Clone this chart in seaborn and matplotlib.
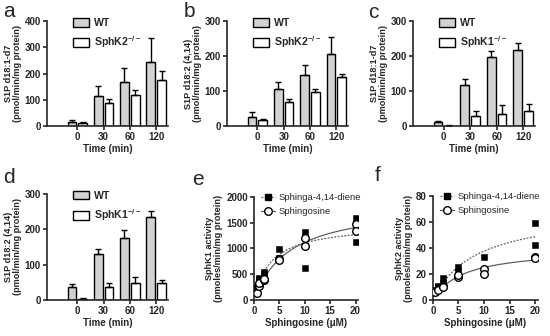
import matplotlib

matplotlib.use("Agg")
import matplotlib.pyplot as plt
import matplotlib.patches as mpatches
import numpy as np
import pandas as pd
import seaborn as sns

# ---- bar panels data (mean, SEM) ----
times = ["0", "30", "60", "120"]

a_wt = [17, 115, 168, 245]
a_wt_err = [4, 37, 52, 92]
a_ko = [12, 88, 118, 177]
a_ko_err = [3, 15, 18, 33]

b_wt = [27, 107, 147, 207]
b_wt_err = [12, 20, 28, 48]
b_ko = [17, 68, 97, 140]
b_ko_err = [3, 9, 10, 10]

c_wt = [12, 118, 197, 217]
c_wt_err = [3, 15, 18, 20]
c_ko = [1, 30, 34, 44]
c_ko_err = [1, 14, 25, 19]

d_wt = [38, 130, 175, 236]
d_wt_err = [8, 15, 24, 17]
d_ko = [3, 36, 48, 48]
d_ko_err = [2, 13, 16, 10]

# ---- kinetics panels data ----
e_diene_x = [0.5, 1, 1, 2, 2, 5, 5, 10, 10, 20, 20]
e_diene = [250, 430, 400, 540, 510, 990, 820, 1310, 620, 1600, 1130]
e_sph_x = [0.5, 1, 1, 2, 2, 5, 5, 10, 10, 20, 20]
e_sph = [130, 270, 330, 390, 400, 790, 770, 1210, 1050, 1480, 1330]

f_diene_x = [0.5, 0.5, 1, 1, 2, 2, 5, 5, 10, 20, 20]
f_diene = [6, 8, 10, 11, 17, 13, 25, 22, 33, 59, 42]
f_sph_x = [0.5, 1, 2, 2, 5, 5, 10, 10, 20, 20]
f_sph = [6, 8, 11, 10, 18, 19, 24, 20, 33, 32]

sns.set_style("ticks")
plt.rcParams["font.family"] = ["Liberation Sans", "DejaVu Sans"]
plt.rcParams["axes.linewidth"] = 1.2
plt.rcParams["xtick.major.width"] = 1.2
plt.rcParams["ytick.major.width"] = 1.2
plt.rcParams["xtick.major.size"] = 3
plt.rcParams["ytick.major.size"] = 3

TICK = 7
XLAB = 7
YLAB = 6.6
LEG_BAR = 7.6
LEG_KIN = 6.8
CURVE = "#606060"
DOTS = (0, (1.5, 1.2))


def style_axes(ax):
    sns.despine(ax=ax)
    for lab in ax.get_xticklabels() + ax.get_yticklabels():
        lab.set_fontweight("bold")
        lab.set_fontsize(TICK)
    ax.tick_params(pad=1.5)


def set_labels(ax, xlabel, ylabel):
    ax.set_xlabel(xlabel, fontsize=XLAB, fontweight="bold", labelpad=1)
    ax.set_ylabel(ylabel, fontsize=YLAB, fontweight="bold", labelpad=2,
                  linespacing=1.0)


def bar_panel(ax, wt, wt_err, ko, ko_err, ko_name, ylabel, ymax, ystep):
    df = pd.DataFrame({
        "time": times * 2,
        "value": wt + ko,
        "group": ["WT"] * 4 + [ko_name] * 4,
    })
    sns.barplot(data=df, x="time", y="value", hue="group",
                palette=["#d2d2d2", "white"], edgecolor="black", linewidth=1.0,
                errorbar=None, gap=0.2, width=0.82, ax=ax, legend=False)
    for cont, err in zip(ax.containers, [wt_err, ko_err]):
        xs = [p.get_x() + p.get_width() / 2 for p in cont]
        ys = [p.get_height() for p in cont]
        ax.errorbar(xs, ys, yerr=[np.zeros(len(err)), err], fmt="none",
                    ecolor="black", elinewidth=1.0, capsize=2.2, capthick=1.0)
    ax.set_xlim(-1.15, 3.45)
    ax.set_ylim(0, ymax)
    ax.set_yticks(np.arange(0, ymax + 1, ystep))
    set_labels(ax, "Time (min)", ylabel)
    handles = [
        mpatches.Patch(facecolor="#d2d2d2", edgecolor="black", linewidth=1.0),
        mpatches.Patch(facecolor="white", edgecolor="black", linewidth=1.0),
    ]
    ax.legend(handles, ["WT", ko_name], loc="upper left",
              bbox_to_anchor=(0.18, 1.07), frameon=False,
              prop={"weight": "bold", "size": LEG_BAR}, handlelength=1.5,
              handleheight=0.9, handletextpad=0.5, labelspacing=0.6,
              borderaxespad=0)
    style_axes(ax)


def mm_fit(x, y):
    x = np.asarray(x, float)
    y = np.asarray(y, float)
    best = None
    for km in np.linspace(0.05, 60, 3000):
        g = x / (km + x)
        vmax = (g @ y) / (g @ g)
        sse = ((y - vmax * g) ** 2).sum()
        if best is None or sse < best[0]:
            best = (sse, vmax, km)
    return best[1], best[2]


def kin_panel(ax, dx, diene, sx, sph, ylabel, ymax, ystep):
    df_d = pd.DataFrame({"conc": dx, "act": diene})
    df_s = pd.DataFrame({"conc": sx, "act": sph})
    xs = np.linspace(0.5, 20, 120)
    vmax, km = mm_fit(dx, diene)
    fit_d = pd.DataFrame({"conc": xs, "act": vmax * xs / (km + xs)})
    vmax, km = mm_fit(sx, sph)
    fit_s = pd.DataFrame({"conc": xs, "act": vmax * xs / (km + xs)})

    sns.lineplot(data=fit_d, x="conc", y="act", color=CURVE, linestyle=DOTS,
                 linewidth=0.9, ax=ax)
    sns.lineplot(data=fit_s, x="conc", y="act", color=CURVE, linewidth=0.9, ax=ax)
    sns.scatterplot(data=df_d, x="conc", y="act", marker="s", s=24,
                    color="black", edgecolor="black", ax=ax, zorder=3)
    sns.scatterplot(data=df_s, x="conc", y="act", marker="o", s=30,
                    facecolor="white", edgecolor="black", linewidth=1.0, ax=ax,
                    zorder=4)
    ax.set_xlim(0, 20.5)
    ax.set_ylim(0, ymax)
    ax.set_xticks([0, 5, 10, 15, 20])
    ax.set_yticks(np.arange(0, ymax + 1, ystep))
    set_labels(ax, "Sphingosine (\u03bcM)", ylabel)
    h1 = plt.Line2D([], [], color=CURVE, linestyle=DOTS, linewidth=0.9,
                    marker="s", markersize=5, markerfacecolor="black",
                    markeredgecolor="black")
    h2 = plt.Line2D([], [], color=CURVE, linewidth=0.9, marker="o",
                    markersize=5.5, markerfacecolor="white", markeredgecolor="black")
    ax.legend([h1, h2], ["Sphinga-4,14-diene", "Sphingosine"], loc="upper left",
              bbox_to_anchor=(0.03, 1.07), frameon=False, prop={"size": LEG_KIN},
              handlelength=1.5, handletextpad=0.4, labelspacing=0.5,
              borderaxespad=0)
    style_axes(ax)


fig = plt.figure(figsize=(5.5, 3.36), dpi=100)

ax_a = fig.add_axes([0.0855, 0.625, 0.22, 0.3125])
ax_b = fig.add_axes([0.413, 0.625, 0.22, 0.3125])
ax_c = fig.add_axes([0.751, 0.625, 0.222, 0.3125])
ax_d = fig.add_axes([0.0855, 0.107, 0.22, 0.316])
ax_e = fig.add_axes([0.462, 0.107, 0.189, 0.307])
ax_f = fig.add_axes([0.787, 0.107, 0.191, 0.31])

k2 = "SphK2$^{\\mathregular{-/-}}$"
k1 = "SphK1$^{\\mathregular{-/-}}$"
bar_panel(ax_a, a_wt, a_wt_err, a_ko, a_ko_err, k2,
          "S1P d18:1-d7\n(pmol/min/mg protein)", 400, 100)
bar_panel(ax_b, b_wt, b_wt_err, b_ko, b_ko_err, k2,
          "S1P d18:2 (4,14)\n(pmol/min/mg protein)", 300, 100)
bar_panel(ax_c, c_wt, c_wt_err, c_ko, c_ko_err, k1,
          "S1P d18:1-d7\n(pmol/min/mg protein)", 300, 100)
bar_panel(ax_d, d_wt, d_wt_err, d_ko, d_ko_err, k1,
          "S1P d18:2 (4,14)\n(pmol/min/mg protein)", 300, 100)
kin_panel(ax_e, e_diene_x, e_diene, e_sph_x, e_sph,
          "SphK1 activity\n(pmoles/min/mg protein)", 2000, 500)
kin_panel(ax_f, f_diene_x, f_diene, f_sph_x, f_sph,
          "SphK2 activity\n(pmoles/min/mg protein)", 80, 20)

for letter, (x, y) in zip("abcdef", [(3, 2), (184, 2), (368, 3), (3, 168),
                                     (192, 170), (375, 166)]):
    fig.text(x / 550, 1 - y / 336, letter, fontsize=15, va="top", ha="left")

fig.savefig("out.png", dpi=100)
plt.close(fig)
